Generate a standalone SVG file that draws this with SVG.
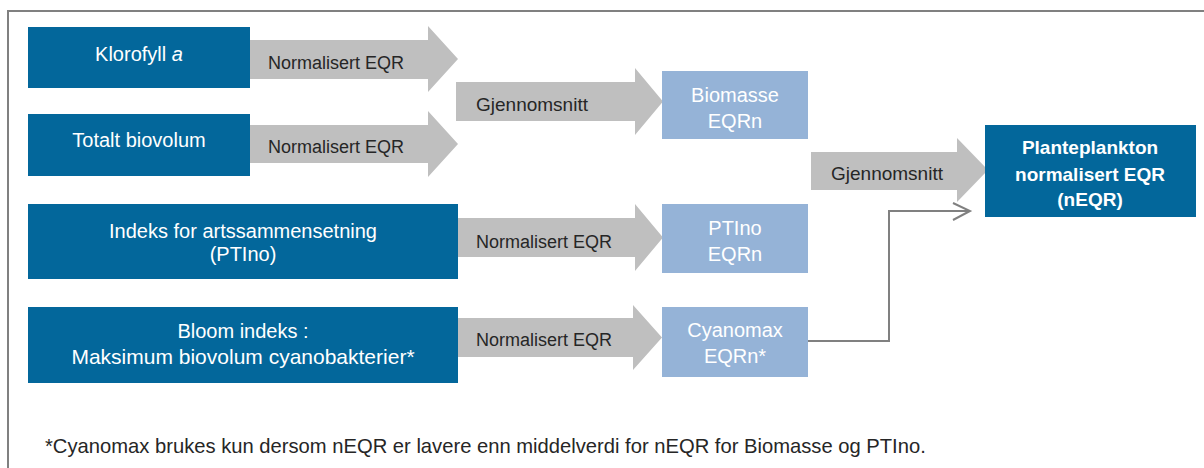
<svg xmlns="http://www.w3.org/2000/svg" width="1204" height="468" viewBox="0 0 1204 468">
<style>
.dark{fill:#03679B}
.light{fill:#95B3D7}
.arrow{fill:#BFBFBF}
.t{font-family:"Liberation Sans",Arial,sans-serif;font-size:20px;fill:#FFFFFF;text-anchor:middle}
.tw{font-size:21px}
.tb{font-family:"Liberation Sans",Arial,sans-serif;font-size:19px;font-weight:bold;fill:#FFFFFF;text-anchor:middle}
.lbl{font-family:"Liberation Sans",Arial,sans-serif;font-size:18px;fill:#262626}
.lbl2{font-family:"Liberation Sans",Arial,sans-serif;font-size:19px;fill:#262626}
.note{font-family:"Liberation Sans",Arial,sans-serif;font-size:20.2px;fill:#262626}
.conn{fill:none;stroke:#808080;stroke-width:2}
</style>
<rect x="0" y="0" width="1204" height="468" fill="#FFFFFF"/>
<path d="M8,470 V11 H1206" fill="none" stroke="#808080" stroke-width="2"/>

<g id="connectors">
  <g id="arrow-klorofyll">
    <polygon class="arrow" points="250,40 428,40 428,26 458,59 428,92 428,79 250,79"/>
    <text class="lbl" x="268" y="69">Normalisert EQR</text>
  </g>
  <g id="arrow-totalt">
    <polygon class="arrow" points="250,125 428,125 428,111 458,144 428,177 428,163 250,163"/>
    <text class="lbl" x="268" y="153">Normalisert EQR</text>
  </g>
  <g id="arrow-biomasse">
    <polygon class="arrow" points="456,82 635,82 635,68 663,101.5 635,135 635,121 456,121"/>
    <text class="lbl2" x="476" y="111">Gjennomsnitt</text>
  </g>
  <g id="arrow-ptino">
    <polygon class="arrow" points="458,218 635,218 635,204 663,237.5 635,271 635,257 458,257"/>
    <text class="lbl" x="476" y="248">Normalisert EQR</text>
  </g>
  <g id="arrow-bloom">
    <polygon class="arrow" points="458,318 633,318 633,305 662,337.5 633,370 633,357 458,357"/>
    <text class="lbl" x="476" y="346">Normalisert EQR</text>
  </g>
  <g id="arrow-final">
    <polygon class="arrow" points="811,152 957,152 957,138 988,170 957,202 957,190 811,190"/>
    <text class="lbl2" x="831" y="180">Gjennomsnitt</text>
  </g>
  <g id="line-cyanomax">
    <polyline class="conn" points="808,341 889,341 889,211 969,211"/>
    <polyline class="conn" points="953,203 970,211 953,220"/>
  </g>
</g>

<g id="node-klorofyll">
  <rect class="dark" x="28" y="27" width="222" height="61"/>
  <text class="t" x="139" y="61">Klorofyll <tspan font-style="italic">a</tspan></text>
</g>
<g id="node-totalt">
  <rect class="dark" x="28" y="114" width="222" height="62"/>
  <text class="t" x="139" y="147">Totalt biovolum</text>
</g>
<g id="node-indeks">
  <rect class="dark" x="28" y="204" width="430" height="75"/>
  <text class="t" x="243" y="238">Indeks for artssammensetning</text>
  <text class="t" x="243" y="261">(PTIno)</text>
</g>
<g id="node-bloom">
  <rect class="dark" x="28" y="307" width="430" height="76"/>
  <text class="t" x="243" y="338">Bloom indeks :</text>
  <text class="t tw" x="243" y="364">Maksimum biovolum cyanobakterier*</text>
</g>
<g id="node-biomasse">
  <rect class="light" x="662" y="71" width="146" height="68"/>
  <text class="t" x="735" y="102">Biomasse</text>
  <text class="t" x="735" y="128">EQRn</text>
</g>
<g id="node-ptino">
  <rect class="light" x="662" y="204" width="146" height="69"/>
  <text class="t" x="735" y="235">PTIno</text>
  <text class="t" x="735" y="261">EQRn</text>
</g>
<g id="node-cyanomax">
  <rect class="light" x="662" y="307" width="146" height="70"/>
  <text class="t" x="735" y="337">Cyanomax</text>
  <text class="t" x="735" y="363">EQRn*</text>
</g>
<g id="node-planteplankton">
  <rect class="dark" x="985" y="125" width="211" height="92"/>
  <text class="tb" x="1090" y="154">Planteplankton</text>
  <text class="tb" x="1090" y="181">normalisert EQR</text>
  <text class="tb" x="1090" y="206">(nEQR)</text>
</g>

<text class="note" x="45" y="453">*Cyanomax brukes kun dersom nEQR er lavere enn middelverdi for nEQR for Biomasse og PTIno.</text>
</svg>
